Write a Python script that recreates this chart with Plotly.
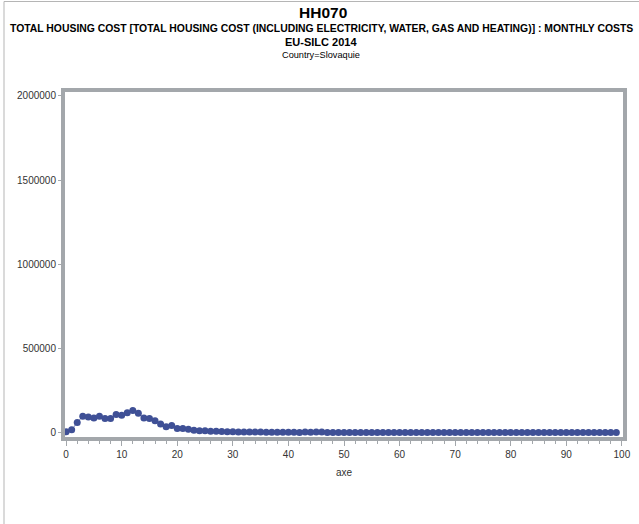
import plotly.graph_objects as go

# ---- data ----
axe = list(range(100))
values = [5000, 17000, 61000, 98000, 94000, 88000, 98000, 85000, 85000, 108000,
          103000, 118000, 132000, 115000, 88000, 85000, 71000, 51000, 35000, 43000,
          25000, 25000, 21000, 15000, 11000, 11000, 9000, 8000, 7000, 6000,
          5000, 4500, 4000, 4000, 3500, 3500, 3000, 3000, 3000, 2500,
          2500, 2500, 1000, 3500, 2000, 4000, 4000, 1500, 1500, 1500,
          1500, 1500, 1500, 1500, 1500, 1500, 1500, 1500, 1500, 1500,
          1500, 1500, 1500, 1500, 1500, 1500, 1500, 1500, 1500, 1500,
          1500, 1500, 1500, 1500, 1500, 1500, 1500, 1500, 1500, 1500,
          1500, 1500, 1500, 1500, 1500, 1500, 1500, 1500, 1500, 1500,
          1500, 1500, 1500, 1500, 1500, 1500, 1500, 1500, 1500, 1500]
x_ticks = [0, 10, 20, 30, 40, 50, 60, 70, 80, 90, 100]
y_ticks = [0, 500000, 1000000, 1500000, 2000000]

W, H = 639, 524
L, R, T, B = 65, 16, 92, 87
PW, PH = W - L - R, H - T - B

def px(x):
    return (x - L) / PW

def py(y):
    return (H - B - y) / PH

font = "Liberation Sans, Arial, sans-serif"
frame = "#a3a7ab"

fig = go.Figure()
fig.add_trace(go.Scatter(
    x=axe, y=values, mode="lines+markers",
    line=dict(color="#7d88bd", width=1),
    marker=dict(color="#3f5096", size=7),
    showlegend=False, hoverinfo="x+y",
))

fig.update_layout(
    width=W, height=H,
    margin=dict(l=L, r=R, t=T, b=B, autoexpand=False),
    paper_bgcolor="white", plot_bgcolor="white",
    font=dict(family=font, size=10, color="#333333"),
    xaxis=dict(range=[-0.2, 100.2], tickvals=x_ticks, ticks="outside", ticklen=5,
               tickcolor=frame, showgrid=False, zeroline=False, automargin=False,
               showline=True, linecolor=frame, linewidth=4, mirror=True,
               minor=dict(dtick=2, ticks="outside", ticklen=3, tickcolor=frame),
               title=dict(text="axe", font=dict(size=10, color="#333333"), standoff=11)),
    yaxis=dict(range=[-25500, 2023700], tickvals=y_ticks, tickformat="d",
               ticks="outside", ticklen=3, tickcolor=frame, automargin=False,
               showgrid=False, zeroline=False,
               showline=True, linecolor=frame, linewidth=4, mirror=True),
)

titles = [
    ("<b>HH070</b>", 15.5, 12, 323),
    ("<b>TOTAL HOUSING COST [TOTAL HOUSING COST (INCLUDING ELECTRICITY, WATER, GAS AND HEATING)] : MONTHLY COSTS</b>", 10.4, 29, 321),
    ("<b>EU-SILC 2014</b>", 11, 42, 321),
    ("Country=Slovaquie", 9.2, 55, 321),
]
for text, size, ypix, xpix in titles:
    fig.add_annotation(text=text, xref="paper", yref="paper", x=px(xpix), y=py(ypix),
                       xanchor="center", yanchor="middle", showarrow=False,
                       font=dict(family=font, size=size, color="black"))

# thin outer border (left and top)
fig.add_shape(type="path", xref="paper", yref="paper",
              path=f"M {px(4)} {py(524)} L {px(4)} {py(1.5)} L {px(639)} {py(1.5)}",
              line=dict(color="#b5b5b5", width=1))

fig.write_html("out.html", config={"displayModeBar": False},
               post_script="document.body.style.margin='0';document.body.style.overflow='hidden';")
